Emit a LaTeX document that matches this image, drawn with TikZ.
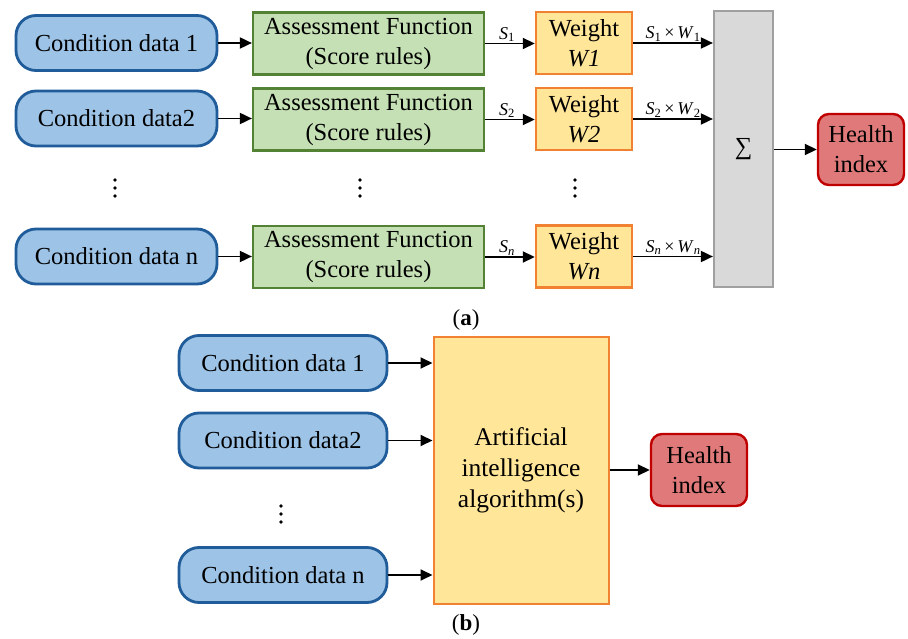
\documentclass[tikz,border=0pt]{standalone}
\usepackage{fontspec}
\setmainfont{Liberation Serif}
\usetikzlibrary{arrows.meta}
\definecolor{cdfill}{RGB}{157,195,230}
\definecolor{cdline}{RGB}{31,92,153}
\definecolor{affill}{RGB}{197,224,180}
\definecolor{afline}{RGB}{84,130,53}
\definecolor{wfill}{RGB}{255,230,153}
\definecolor{wline}{RGB}{240,130,50}
\definecolor{sgfill}{RGB}{217,217,217}
\definecolor{sgline}{RGB}{160,160,160}
\definecolor{hifill}{RGB}{224,122,122}
\definecolor{hiline}{RGB}{192,0,0}
\newcommand\mainsize{\fontsize{24.5}{30}\selectfont}
\newcommand\aisize{\fontsize{25.5}{31}\selectfont}
\newcommand\lblsize{\fontsize{18}{21}\selectfont}
\newcommand\ivar[2]{\textit{#1}\textsubscript{#2}}
\begin{document}
\begin{tikzpicture}[x=1pt,y=-1pt,
  box/.style={inner sep=0pt,align=center,font=\mainsize,text=black},
  cdbox/.style={box,draw=cdline,fill=cdfill,line width=2.8pt,rounded corners=20pt,minimum height=55pt},
  afbox/.style={box,draw=afline,fill=affill,line width=2.2pt,minimum width=231pt,minimum height=62pt},
  wbox/.style={box,draw=wline,fill=wfill,line width=2.4pt,minimum width=96pt,minimum height=62pt},
  sgbox/.style={box,draw=sgline,fill=sgfill,line width=2.2pt},
  hibox/.style={box,draw=hiline,fill=hifill,line width=2.4pt,rounded corners=11pt},
  aibox/.style={box,draw=wline,fill=wfill,line width=2pt,font=\aisize},
  conn/.style={line width=1.8pt,-{Triangle[length=12pt,width=11pt]}},
  lbl/.style={font=\lblsize,inner sep=1pt,anchor=south},
  caption/.style={font=\fontsize{23}{27}\selectfont,inner sep=0pt}]
\useasboundingbox (0,0) rectangle (908,639);

% ---- (a) score-based health index ----
\node[cdbox,minimum width=201pt] (cd1) at (116.5,43) {Condition data 1};
\node[cdbox,minimum width=201pt] (cd2) at (116.5,118.5) {Condition data2};
\node[cdbox,minimum width=201pt] (cdn) at (116.5,256.5) {Condition data n};

\node[afbox] (af1) at (368.5,43.5) {Assessment Function\\(Score rules)};
\node[afbox] (af2) at (368.5,119.5) {Assessment Function\\(Score rules)};
\node[afbox] (afn) at (368.5,257) {Assessment Function\\(Score rules)};

\node[wbox] (w1) at (584,43) {Weight\\\textit{W1}};
\node[wbox] (w2) at (584,119) {Weight\\\textit{W2}};
\node[wbox] (wn) at (584,256.5) {Weight\\\textit{Wn}};

\node[sgbox,minimum width=59pt,minimum height=276pt] (sg) at (743.5,149) {∑};
\node[hibox,minimum width=86pt,minimum height=71pt] (hi) at (861,149.5) {Health\\index};

% elided rows: three stacked dots per column
\foreach \x/\nm in {115/da1,360/da2,575/da3} {
  \coordinate (\nm) at (\x,188);
  \fill (\x,180) circle (1.8pt) (\x,188) circle (1.8pt) (\x,196) circle (1.8pt);
}

\draw[conn] (cd1.east) -- (cd1.east -| af1.west);
\draw[conn] (cd2.east) -- (cd2.east -| af2.west);
\draw[conn] (cdn.east) -- (cdn.east -| afn.west);

\draw[conn] (af1.east) -- node[lbl,xshift=-3pt]{\ivar{S}{1}} (af1.east -| w1.west);
\draw[conn] (af2.east) -- node[lbl,xshift=-3pt]{\ivar{S}{2}} (af2.east -| w2.west);
\draw[conn] (afn.east) -- node[lbl,xshift=-3pt]{\ivar{S}{\textit{n}}} (afn.east -| wn.west);

\draw[conn] (w1.east) -- node[lbl]{\ivar{S}{1}\,×\,\ivar{W}{1}} (w1.east -| sg.west);
\draw[conn] (w2.east) -- node[lbl]{\ivar{S}{2}\,×\,\ivar{W}{2}} (w2.east -| sg.west);
\draw[conn] (wn.east) -- node[lbl]{\ivar{S}{\textit{n}}\,×\,\ivar{W}{\textit{n}}} (wn.east -| sg.west);

\draw[conn] (sg.east |- hi.west) -- (hi.west);

\node[caption] (capa) at (466,320) {(\textbf{a})};

% ---- (b) AI-based health index ----
\node[cdbox,minimum width=208pt] (bc1) at (283,363) {Condition data 1};
\node[cdbox,minimum width=208pt] (bc2) at (283,440.5) {Condition data2};
\node[cdbox,minimum width=208pt] (bcn) at (283,575) {Condition data n};
\coordinate (db) at (281,514);
\fill (281,506) circle (1.8pt) (281,514) circle (1.8pt) (281,522) circle (1.8pt);

\node[aibox,minimum width=175pt,minimum height=267pt] (ai) at (521,470) {Artificial\\intelligence\\algorithm(s)};
\node[hibox,minimum width=96pt,minimum height=72pt] (bhi) at (699,470) {Health\\index};

\draw[conn] (bc1.east) -- (bc1.east -| ai.west);
\draw[conn] (bc2.east) -- (bc2.east -| ai.west);
\draw[conn] (bcn.east) -- (bcn.east -| ai.west);
\draw[conn] (ai.east |- bhi.west) -- (bhi.west);

\node[caption] (capb) at (466,625) {(\textbf{b})};
\end{tikzpicture}
\end{document}
